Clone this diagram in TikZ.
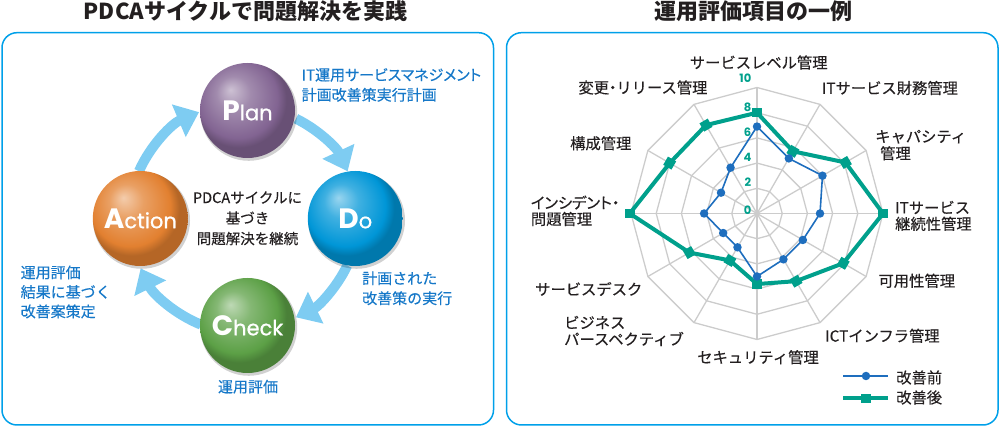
\documentclass[tikz,border=0pt]{standalone}
\usepackage{fontspec}
\setmainfont{Noto Sans CJK JP}
\newfontfamily\jp[FakeBold=0.3]{Noto Sans CJK JP}
\newfontfamily\jpp[FakeBold=0.3,RawFeature=+palt]{Noto Sans CJK JP}
\newfontfamily\jpt{Noto Sans CJK JP}
\newfontfamily\pop{Poppins}
\newfontfamily\popm[FakeBold=0.8]{Poppins}
\usetikzlibrary{arrows.meta}

\definecolor{frame}{RGB}{0,160,233}
\definecolor{arrowblue}{RGB}{126,204,242}
\definecolor{labelblue}{RGB}{22,120,200}
\definecolor{txt}{RGB}{35,31,32}
\definecolor{gridgray}{RGB}{204,204,204}
\definecolor{beforeblue}{RGB}{30,110,190}
\definecolor{aftergreen}{RGB}{0,160,140}
\definecolor{plancol}{RGB}{130,100,146}
\definecolor{docol}{RGB}{0,150,215}
\definecolor{checkcol}{RGB}{92,160,70}
\definecolor{actioncol}{RGB}{226,128,48}

\pgfdeclareradialshading{planball}{\pgfpoint{-9bp}{11bp}}{color(0bp)=(plancol!40!white); color(9bp)=(plancol!75!white); color(21bp)=(plancol); color(25bp)=(plancol!80!black); color(50bp)=(plancol!80!black)}
\pgfdeclareradialshading{doball}{\pgfpoint{-9bp}{11bp}}{color(0bp)=(docol!40!white); color(9bp)=(docol!75!white); color(21bp)=(docol); color(25bp)=(docol!80!black); color(50bp)=(docol!80!black)}
\pgfdeclareradialshading{checkball}{\pgfpoint{-9bp}{11bp}}{color(0bp)=(checkcol!40!white); color(9bp)=(checkcol!75!white); color(21bp)=(checkcol); color(25bp)=(checkcol!80!black); color(50bp)=(checkcol!80!black)}
\pgfdeclareradialshading{actionball}{\pgfpoint{-9bp}{11bp}}{color(0bp)=(actioncol!40!white); color(9bp)=(actioncol!75!white); color(21bp)=(actioncol); color(25bp)=(actioncol!80!black); color(50bp)=(actioncol!80!black)}

\tikzset{
  panel/.style={draw=frame, line width=1.5pt, rounded corners=15pt},
  title/.style={font=\jpt\bfseries\fontsize{22}{22}\selectfont, text=txt, inner sep=0pt},
  ball/.style={circle, minimum size=95pt, inner sep=0pt, text=white},
  ballshadow/.style={fill=black, opacity=0.18},
  cyc/.style={draw=arrowblue, line width=10pt, -{Triangle[width=34pt,length=22pt]}},
  blab/.style={font=\jp\fontsize{15}{20}\selectfont, text=labelblue, align=left, inner sep=0pt},
  midtext/.style={font=\jp\fontsize{14.5}{20.5}\selectfont, text=txt, align=center, inner sep=0pt},
  rlab/.style={font=\jp\fontsize{15.3}{18}\selectfont, text=txt, inner sep=0pt},
  gridline/.style={draw=gridgray, line width=1.3pt},
  num/.style={font=\pop\bfseries\fontsize{11.5}{11.5}\selectfont, text=aftergreen, anchor=east, inner sep=0pt},
  beforeline/.style={draw=beforeblue, line width=1.6pt, line join=round},
  afterline/.style={draw=aftergreen, line width=4pt, line join=round},
  bmark/.style={circle, fill=beforeblue, minimum size=8.5pt, inner sep=0pt},
  amark/.style={rectangle, fill=aftergreen, minimum size=9.5pt, inner sep=0pt},
}

\begin{document}
\begin{tikzpicture}[x=1pt,y=1pt]
\useasboundingbox (0,0) rectangle (1000,427);

% ---------------- left panel ----------------
\node[title] (t1) at (245.5,416) {PDCAサイクルで問題解決を実践};
\draw[panel] (2,2) rectangle (493.5,394.3);

\coordinate (ctr) at (247.5,209);
\coordinate (ctl) at (244,209);

\draw[cyc] ([shift={(64:110.5)}]ctr) arc[start angle=64, end angle=25, radius=110.5];
\draw[cyc] ([shift={(-25.5:110.5)}]ctr) arc[start angle=-25.5, end angle=-64, radius=110.5];
\draw[cyc] ([shift={(-112:115)}]ctl) arc[start angle=-112, end angle=-154, radius=115];
\draw[cyc] ([shift={(156:115)}]ctl) arc[start angle=156, end angle=113, radius=115];

% soft shadows under the spheres
\foreach \px/\py in {247.5/316.5, 355.3/208.5, 247.5/101.5, 140.3/208.5}{
  \fill[ballshadow] (\px+1.2,\py-1.8) circle[radius=48.5];
}

\node[ball, shading=planball] (plan) at (247.5,316.5)
  {{\pop\bfseries\fontsize{28}{28}\selectfont P}{\popm\fontsize{21}{21}\selectfont lan}};
\node[ball, shading=doball] (do) at (355.3,208.5)
  {{\pop\bfseries\fontsize{28}{28}\selectfont D}{\popm\fontsize{21}{21}\selectfont o}};
\node[ball, shading=checkball] (check) at (247.5,101.5)
  {{\pop\bfseries\fontsize{28}{28}\selectfont C}{\popm\fontsize{21}{21}\selectfont heck}};
\node[ball, shading=actionball] (action) at (140.3,208.5)
  {{\pop\bfseries\fontsize{28}{28}\selectfont A}{\popm\fontsize{21}{21}\selectfont ction}};

\node[midtext] (mid) at (247.5,208.7) {PDCAサイクルに\\基づき\\問題解決を継続};

\node[blab, anchor=west] (pl) at (301.5,342) {{\jpp IT運用サービスマネジメント}\\計画改善策実行計画};
\node[blab, anchor=west] (dl) at (362,138.7) {計画された\\改善策の実行};
\node[blab] (cl) at (248,40.3) {運用評価};
\node[blab, anchor=west, font=\jp\fontsize{15}{19.5}\selectfont] (al) at (20.5,135) {運用評価\\結果に基づく\\改善案策定};

% ---------------- right panel ----------------
\node[title] (t2) at (753,416) {運用評価項目の一例};
\draw[panel] (506.5,2) rectangle (998,394.3);

\begin{scope}[shift={(757,213.5)}]
  \foreach \lv in {2,4,6,8,10}{
    \draw[gridline] (90:\lv*12.6) \foreach \k in {1,...,11}{ -- ({90-30*\k}:\lv*12.6)} -- cycle;
  }
  \foreach \k in {0,...,11}{
    \draw[gridline] (0,0) -- ({90-30*\k}:126);
  }
  \foreach \v [count=\k from 0] in {8,5.7,8.1,10,7.9,6.2,5.6,4.3,6.2,10.1,8,8.1}{
    \coordinate (a\k) at ({90-30*\k}:{\v*12.6});
  }
  \foreach \v [count=\k from 0] in {6.9,5.05,6,5,4.2,4.2,5,3.1,3.1,4.2,3.3,4.2}{
    \coordinate (b\k) at ({90-30*\k}:{\v*12.6});
  }
  \draw[afterline] (a0) -- (a1) -- (a2) -- (a3) -- (a4) -- (a5) -- (a6) -- (a7) -- (a8) -- (a9) -- (a10) -- (a11) -- cycle;
  \foreach \k in {0,...,11}{ \node[amark, rotate={-30*\k}] (am\k) at (a\k) {}; }
  \draw[beforeline] (b0) -- (b1) -- (b2) -- (b3) -- (b4) -- (b5) -- (b6) -- (b7) -- (b8) -- (b9) -- (b10) -- (b11) -- cycle;
  \foreach \k in {0,...,11}{ \node[bmark] (bm\k) at (b\k) {}; }
\end{scope}

\node[num] (n0) at (751.5,217) {0};
\node[num] (n2) at (751.5,245) {2};
\node[num] (n4) at (751.5,270) {4};
\node[num] (n6) at (751.5,295) {6};
\node[num] (n8) at (751.5,320) {8};
\node[num] (n10) at (751.5,349) {10};

\node[rlab] (l0) at (758.7,364.5) {サービスレベル管理};
\node[rlab, anchor=west] (l1) at (821.7,339) {ITサービス財務管理};
\node[rlab, anchor=west] (l2a) at (875,290.3) {キャパシティ};
\node[rlab, anchor=west] (l2b) at (880,273.7) {管理};
\node[rlab, anchor=west] (l3a) at (895,219.5) {ITサービス};
\node[rlab, anchor=west] (l3b) at (895,203.2) {継続性管理};
\node[rlab, anchor=west] (l4) at (878.3,146.2) {可用性管理};
\node[rlab, anchor=west] (l5) at (825,91.2) {ICTインフラ管理};
\node[rlab] (l6) at (758,69.8) {セキュリティ管理};
\node[rlab, anchor=west] (l7a) at (564,104.5) {ビジネス};
\node[rlab, anchor=west] (l7b) at (564,88) {パースペクティブ};
\node[rlab, anchor=west] (l8) at (535,138) {サービスデスク};
\node[rlab, anchor=west, font=\jpp\fontsize{15.3}{18}\selectfont] (l9a) at (530.7,224.5) {インシデント・};
\node[rlab, anchor=west] (l9b) at (530.7,208) {問題管理};
\node[rlab, anchor=west] (l10) at (570,283.7) {構成管理};
\node[rlab, anchor=west] (l11) at (578.3,339.5) {変更{\kern-4pt・\kern-4pt}リリース管理};

% legend
\coordinate (lg1a) at (843.3,51);
\coordinate (lg1b) at (888.3,51);
\coordinate (lg2a) at (843.3,28.7);
\coordinate (lg2b) at (888.3,28.7);
\draw[beforeline] (lg1a) -- (lg1b);
\node[bmark] (lgb) at (866,51) {};
\draw[afterline] (lg2a) -- (lg2b);
\node[amark] (lga) at (866,28.7) {};
\node[rlab, anchor=west] (lgt1) at (896,49.5) {改善前};
\node[rlab, anchor=west] (lgt2) at (896,29.5) {改善後};
\end{tikzpicture}
\end{document}
